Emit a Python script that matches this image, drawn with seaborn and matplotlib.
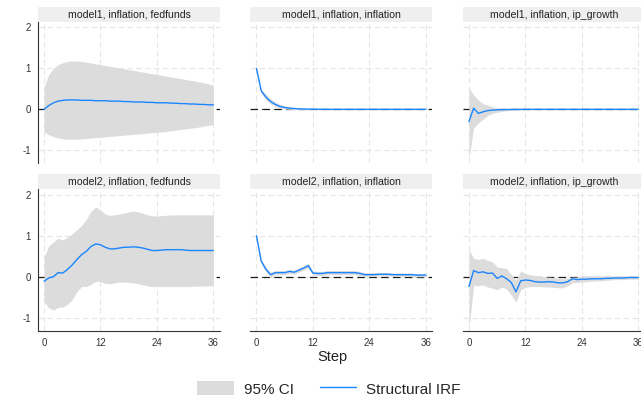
import numpy as np
import pandas as pd
import matplotlib
matplotlib.use('Agg')
import matplotlib.pyplot as plt
import seaborn as sns
from matplotlib.patches import Rectangle, Patch
from matplotlib.lines import Line2D

steps = list(range(37))
models = ['model1', 'model2']
responses = ['fedfunds', 'inflation', 'ip_growth']

# model1, inflation -> fedfunds
m1_ff_irf = [0.00, 0.09, 0.16, 0.20, 0.22, 0.23, 0.23, 0.23, 0.22, 0.22,
             0.22, 0.21, 0.21, 0.21, 0.20, 0.20, 0.20, 0.19, 0.19, 0.18,
             0.18, 0.18, 0.17, 0.17, 0.16, 0.16, 0.16, 0.15, 0.15, 0.14,
             0.14, 0.13, 0.13, 0.12, 0.12, 0.11, 0.11]
m1_ff_hi = [0.55, 0.85, 1.00, 1.09, 1.14, 1.17, 1.18, 1.18, 1.17, 1.15,
            1.13, 1.11, 1.09, 1.07, 1.05, 1.03, 1.01, 0.99, 0.97, 0.95,
            0.93, 0.91, 0.89, 0.87, 0.85, 0.83, 0.81, 0.79, 0.77, 0.75,
            0.73, 0.71, 0.69, 0.67, 0.65, 0.62, 0.59]
m1_ff_lo = [-0.55, -0.62, -0.67, -0.70, -0.72, -0.73, -0.73, -0.73, -0.72, -0.71,
            -0.70, -0.69, -0.68, -0.67, -0.66, -0.65, -0.64, -0.63, -0.62, -0.61,
            -0.60, -0.59, -0.58, -0.57, -0.56, -0.55, -0.54, -0.52, -0.51, -0.49,
            -0.48, -0.46, -0.45, -0.43, -0.41, -0.39, -0.37]

# model1, inflation -> inflation
m1_inf_irf = [1.00, 0.45, 0.30, 0.19, 0.12, 0.07, 0.045, 0.03, 0.02, 0.012,
              0.008, 0.005, 0.003, 0.002, 0.001, 0.001, 0.0, 0.0, 0.0, 0.0,
              0.0, 0.0, 0.0, 0.0, 0.0, 0.0, 0.0, 0.0, 0.0, 0.0,
              0.0, 0.0, 0.0, 0.0, 0.0, 0.0, 0.0]
m1_inf_hi = [1.00, 0.50, 0.37, 0.26, 0.18, 0.12, 0.085, 0.06, 0.045, 0.032,
             0.024, 0.018, 0.013, 0.010, 0.008, 0.006, 0.005, 0.004, 0.003, 0.003,
             0.002, 0.002, 0.002, 0.002, 0.002, 0.002, 0.002, 0.002, 0.002, 0.002,
             0.002, 0.002, 0.002, 0.002, 0.002, 0.002, 0.002]
m1_inf_lo = [1.00, 0.40, 0.23, 0.13, 0.07, 0.03, 0.01, 0.0, -0.005, -0.008,
             -0.008, -0.008, -0.007, -0.006, -0.005, -0.004, -0.004, -0.003, -0.003, -0.003,
             -0.002, -0.002, -0.002, -0.002, -0.002, -0.002, -0.002, -0.002, -0.002, -0.002,
             -0.002, -0.002, -0.002, -0.002, -0.002, -0.002, -0.002]

# model1, inflation -> ip_growth
m1_ip_irf = [-0.30, 0.03, -0.10, -0.06, -0.03, -0.02, -0.012, -0.008, -0.005, -0.003,
             -0.002, -0.001, 0.0, 0.0, 0.0, 0.0, 0.0, 0.0, 0.0, 0.0,
             0.0, 0.0, 0.0, 0.0, 0.0, 0.0, 0.0, 0.0, 0.0, 0.0,
             0.0, 0.0, 0.0, 0.0, 0.0, 0.0, 0.0]
m1_ip_hi = [0.52, 0.35, 0.22, 0.14, 0.10, 0.06, 0.04, 0.03, 0.02, 0.015,
            0.010, 0.008, 0.006, 0.005, 0.004, 0.003, 0.002, 0.002, 0.002, 0.002,
            0.002, 0.002, 0.002, 0.002, 0.002, 0.002, 0.002, 0.002, 0.002, 0.002,
            0.002, 0.002, 0.002, 0.002, 0.002, 0.002, 0.002]
m1_ip_lo = [-1.20, -0.45, -0.33, -0.24, -0.15, -0.10, -0.07, -0.05, -0.035, -0.025,
            -0.018, -0.013, -0.010, -0.008, -0.006, -0.005, -0.004, -0.003, -0.002, -0.002,
            -0.002, -0.002, -0.002, -0.002, -0.002, -0.002, -0.002, -0.002, -0.002, -0.002,
            -0.002, -0.002, -0.002, -0.002, -0.002, -0.002, -0.002]

# model2, inflation -> fedfunds
m2_ff_irf = [-0.11, -0.03, 0.00, 0.10, 0.09, 0.18, 0.29, 0.42, 0.54, 0.62,
             0.74, 0.80, 0.78, 0.72, 0.68, 0.68, 0.70, 0.72, 0.72, 0.73,
             0.72, 0.70, 0.67, 0.64, 0.64, 0.65, 0.66, 0.66, 0.66, 0.66,
             0.65, 0.64, 0.64, 0.64, 0.64, 0.64, 0.64]
m2_ff_hi = [0.48, 0.75, 0.85, 0.94, 0.90, 0.96, 1.05, 1.15, 1.25, 1.40,
            1.60, 1.70, 1.63, 1.53, 1.50, 1.51, 1.53, 1.55, 1.58, 1.60,
            1.58, 1.55, 1.51, 1.49, 1.48, 1.49, 1.50, 1.51, 1.51, 1.51,
            1.51, 1.51, 1.51, 1.51, 1.51, 1.51, 1.51]
m2_ff_lo = [-0.60, -0.76, -0.81, -0.75, -0.74, -0.67, -0.56, -0.36, -0.24, -0.24,
            -0.18, -0.11, -0.12, -0.16, -0.17, -0.15, -0.13, -0.13, -0.14, -0.15,
            -0.17, -0.20, -0.22, -0.24, -0.24, -0.24, -0.24, -0.24, -0.24, -0.24,
            -0.24, -0.24, -0.23, -0.23, -0.23, -0.22, -0.22]

# model2, inflation -> inflation
m2_inf_irf = [1.00, 0.38, 0.18, 0.05, 0.10, 0.10, 0.10, 0.13, 0.11, 0.16,
              0.21, 0.27, 0.09, 0.08, 0.08, 0.10, 0.10, 0.10, 0.10, 0.10,
              0.10, 0.10, 0.08, 0.05, 0.05, 0.05, 0.06, 0.06, 0.06, 0.05,
              0.05, 0.05, 0.05, 0.05, 0.04, 0.04, 0.04]
m2_inf_hi = [1.00, 0.43, 0.24, 0.11, 0.15, 0.15, 0.15, 0.18, 0.16, 0.21,
             0.26, 0.33, 0.14, 0.13, 0.13, 0.15, 0.15, 0.15, 0.15, 0.15,
             0.15, 0.15, 0.13, 0.10, 0.10, 0.10, 0.10, 0.10, 0.10, 0.09,
             0.09, 0.09, 0.09, 0.09, 0.08, 0.08, 0.08]
m2_inf_lo = [1.00, 0.33, 0.12, -0.01, 0.05, 0.05, 0.05, 0.08, 0.06, 0.11,
             0.16, 0.21, 0.04, 0.03, 0.03, 0.05, 0.05, 0.05, 0.05, 0.05,
             0.05, 0.05, 0.03, 0.01, 0.01, 0.01, 0.02, 0.02, 0.02, 0.01,
             0.01, 0.01, 0.01, 0.01, 0.00, 0.00, 0.00]

# model2, inflation -> ip_growth
m2_ip_irf = [-0.24, 0.15, 0.10, 0.12, 0.08, 0.09, -0.04, 0.02, -0.05, -0.14,
             -0.37, -0.10, -0.08, -0.09, -0.12, -0.13, -0.13, -0.12, -0.13, -0.15,
             -0.15, -0.12, -0.05, -0.07, -0.06, -0.06, -0.05, -0.05, -0.05, -0.04,
             -0.04, -0.03, -0.03, -0.03, -0.02, -0.02, -0.02]
m2_ip_hi = [0.65, 0.45, 0.42, 0.45, 0.40, 0.36, 0.24, 0.22, 0.20, 0.05,
            -0.08, 0.14, 0.08, 0.05, 0.03, 0.01, -0.01, -0.01, -0.02, -0.04,
            -0.05, -0.03, -0.01, -0.01, 0.01, 0.02, 0.02, 0.02, 0.02, 0.02,
            0.02, 0.02, 0.02, 0.02, 0.02, 0.02, 0.02]
m2_ip_lo = [-1.25, -0.22, -0.22, -0.20, -0.25, -0.28, -0.32, -0.25, -0.30, -0.45,
            -0.62, -0.32, -0.26, -0.24, -0.24, -0.24, -0.25, -0.25, -0.26, -0.27,
            -0.27, -0.22, -0.15, -0.14, -0.13, -0.12, -0.11, -0.10, -0.10, -0.09,
            -0.08, -0.07, -0.07, -0.07, -0.06, -0.06, -0.06]

series = {
    ('model1', 'fedfunds'): (m1_ff_irf, m1_ff_lo, m1_ff_hi),
    ('model1', 'inflation'): (m1_inf_irf, m1_inf_lo, m1_inf_hi),
    ('model1', 'ip_growth'): (m1_ip_irf, m1_ip_lo, m1_ip_hi),
    ('model2', 'fedfunds'): (m2_ff_irf, m2_ff_lo, m2_ff_hi),
    ('model2', 'inflation'): (m2_inf_irf, m2_inf_lo, m2_inf_hi),
    ('model2', 'ip_growth'): (m2_ip_irf, m2_ip_lo, m2_ip_hi),
}

frames = []
for (m, r), (irf, lo, hi) in series.items():
    frames.append(pd.DataFrame({'model': m, 'response': r, 'step': steps,
                                'irf': irf, 'lo': lo, 'hi': hi}))
df = pd.concat(frames, ignore_index=True)

sns.set_style('white')
plt.rcParams['font.family'] = ['Liberation Sans', 'DejaVu Sans']
plt.rcParams['axes.unicode_minus'] = False

blue = '#1a85ff'
ci_col = '#dcdcdc'

def band(data, **kw):
    ax = plt.gca()
    ax.fill_between(data['step'], data['lo'], data['hi'], color=ci_col, lw=0, zorder=1)

g = sns.FacetGrid(df, row='model', col='response', row_order=models, col_order=responses,
                  sharex=True, sharey=True, despine=False, height=2, aspect=1.3)
g.map_dataframe(band)
g.map_dataframe(sns.lineplot, x='step', y='irf', color=blue, lw=1.0, zorder=4)
g.set_titles('')
g.set_axis_labels('', '')

fig = g.figure
fig.set_size_inches(6.41, 4.01)
fig.subplots_adjust(left=0.0593, right=1.006, top=0.945, bottom=0.175,
                    wspace=0.168, hspace=0.184)

for i, m in enumerate(models):
    for j, r in enumerate(responses):
        ax = g.axes[i, j]
        ax.set_xlim(-1.28, 37.4)
        ax.set_ylim(-1.32, 2.13)
        ax.set_xticks([0, 12, 24, 36])
        ax.set_yticks([-1, 0, 1, 2])
        ax.grid(True, color='#e6e6e6', ls=(0, (5, 3)), lw=0.8, zorder=0.2)
        ax.set_axisbelow(True)
        # zero line sits under the CI band, as in the original
        ax.axhline(0, color='#1a1a1a', ls=(0, (6, 3.5)), lw=0.9, zorder=0.8)
        for s in ax.spines.values():
            s.set_visible(False)
        ax.tick_params(labelsize=7, colors='#333333', length=0, pad=2)
        if j == 0:
            ax.spines['left'].set_visible(True)
            ax.spines['left'].set_color('#333333')
            ax.spines['left'].set_linewidth(0.8)
            ax.tick_params(axis='y', length=3, width=0.7)
        if i == 1:
            ax.spines['bottom'].set_visible(True)
            ax.spines['bottom'].set_color('#333333')
            ax.spines['bottom'].set_linewidth(0.8)
            ax.tick_params(axis='x', length=3, width=0.7)
        ax.add_patch(Rectangle((0, 1.0), 1, 0.106, transform=ax.transAxes,
                               fc='#efefef', ec='none', clip_on=False))
        ax.text(0.5, 1.053, f'{m}, inflation, {r}', transform=ax.transAxes,
                ha='center', va='center', fontsize=7.6, color='#222222')

fig.text(0.518, 0.11, 'Step', ha='center', va='center', fontsize=10.5, color='#222222')

handles = [Patch(fc=ci_col, ec='none'), Line2D([], [], color=blue, lw=1.0)]
fig.legend(handles, ['95% CI', 'Structural IRF'], loc='center',
           bbox_to_anchor=(0.513, 0.03), ncol=2, frameon=False, fontsize=11,
           handlelength=2.4, handleheight=1.05, handletextpad=0.65, columnspacing=1.7)

fig.savefig('out.png', dpi=100, facecolor='white')
